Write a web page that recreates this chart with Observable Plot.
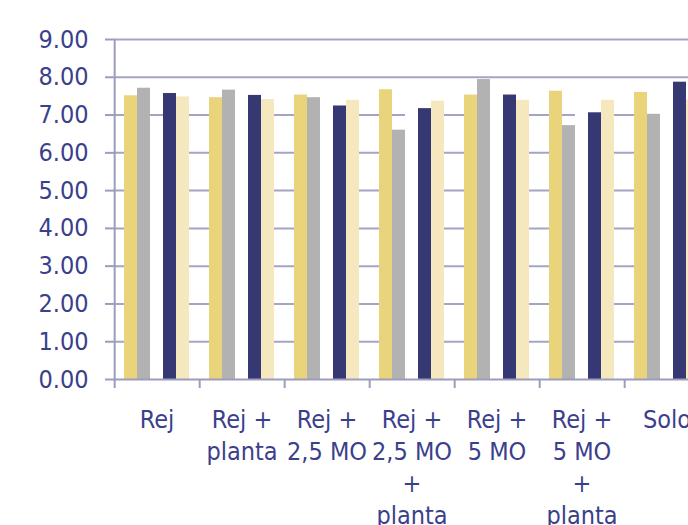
<!DOCTYPE html>
<html>
<head>
<meta charset="utf-8">
<script src="https://cdn.jsdelivr.net/npm/d3@7"></script>
<script src="https://cdn.jsdelivr.net/npm/@observablehq/plot@0.6"></script>
<style>
  html, body { margin: 0; padding: 0; background: #fff; overflow: hidden; width: 688px; height: 525px; }
  #grafico svg { display: block; max-width: none !important; width: 740px !important; height: 525px !important; }
</style>
</head>
<body>
<div id="grafico"></div>
<script>
// Tratamentos (rótulos do eixo x, com quebras de linha)
const categorias = [
  "Rej",
  "Rej +\nplanta",
  "Rej +\n2,5 MO",
  "Rej +\n2,5 MO\n+\nplanta",
  "Rej +\n5 MO",
  "Rej +\n5 MO\n+\nplanta",
  "Solo"
];

// Séries (quatro coletas e uma série de fundo branco entre elas)
const series = ["Série 1", "Série 2", "Série 3", "Série 4", "Série 5"];
const cores = ["#E9D47C", "#B2B2B2", "#FFFFFF", "#353872", "#F5E8BF"];

const serie1 = [7.51, 7.46, 7.53, 7.67, 7.53, 7.63, 7.60];
const serie2 = [7.71, 7.66, 7.46, 6.60, 7.94, 6.72, 7.02];
const serie3 = [6.80, 7.50, 7.40, 7.30, 7.60, 7.20, 7.50];
const serie4 = [7.57, 7.52, 7.24, 7.17, 7.53, 7.06, 7.87];
const serie5 = [7.48, 7.41, 7.39, 7.37, 7.39, 7.39, 7.40];

// Marcas do eixo y
const yTicks = [0, 1, 2, 3, 4, 5, 6, 7, 8, 9];

const valores = [serie1, serie2, serie3, serie4, serie5];
const linhas = categorias.flatMap((c, i) =>
  series.map((s, j) => ({ cat: c, serie: s, valor: valores[j][i] }))
);

// Divisões entre tratamentos no eixo x (a primeira sobe como eixo y)
const divisoes = categorias.map((c, i) => ({ cat: c, serie: series[0], topo: i === 0 ? 9 : 0 }));

const W = 740, H = 525, mL = 112, mR = 30, mT = 39, mB = 146;
const padOut = 0.736;
const faixa = (W - mL - mR) / categorias.length;
const passo = faixa / (series.length + 2 * padOut);
const recuo = padOut * passo + passo / 2;

const corEixo = "#9c9cbc";
const corTexto = "#3b3f8c";

const plot = Plot.plot({
  width: W,
  height: H,
  marginLeft: mL,
  marginRight: mR,
  marginTop: mT,
  marginBottom: mB,
  style: {
    fontFamily: "'DejaVu Sans Condensed', 'DejaVu Sans', sans-serif",
    fontStretch: "condensed",
    fontSize: "25px",
    color: corTexto,
    background: "#fff",
    overflow: "visible",
    maxWidth: "none"
  },
  fx: { domain: categorias, padding: 0, label: null },
  x: { domain: series, paddingInner: 0, paddingOuter: padOut, axis: null },
  y: { domain: [0, 9], axis: null },
  color: { domain: series, range: cores },
  marks: [
    Plot.ruleY(yTicks.slice(1), { stroke: "#a4a4c4", strokeWidth: 2 }),
    Plot.barY(linhas, { fx: "cat", x: "serie", y: "valor", fill: "serie" }),
    Plot.ruleY([0], { stroke: corEixo, strokeWidth: 2 }),
    Plot.ruleX(divisoes, {
      fx: "cat", x: "serie", y1: "topo", y2: 0,
      dx: -recuo, insetBottom: -9, stroke: corEixo, strokeWidth: 2
    }),
    Plot.axisY({
      ticks: yTicks, tickFormat: d => d.toFixed(2),
      tickSize: 9, tickPadding: 17, fontSize: 25,
      stroke: corEixo, strokeWidth: 2, label: null
    }),
    Plot.axisFx({
      anchor: "bottom", tickSize: 0, tickPadding: 26,
      fontSize: 25, lineHeight: 1.28, label: null
    })
  ]
});

document.getElementById("grafico").appendChild(plot);
</script>
</body>
</html>
